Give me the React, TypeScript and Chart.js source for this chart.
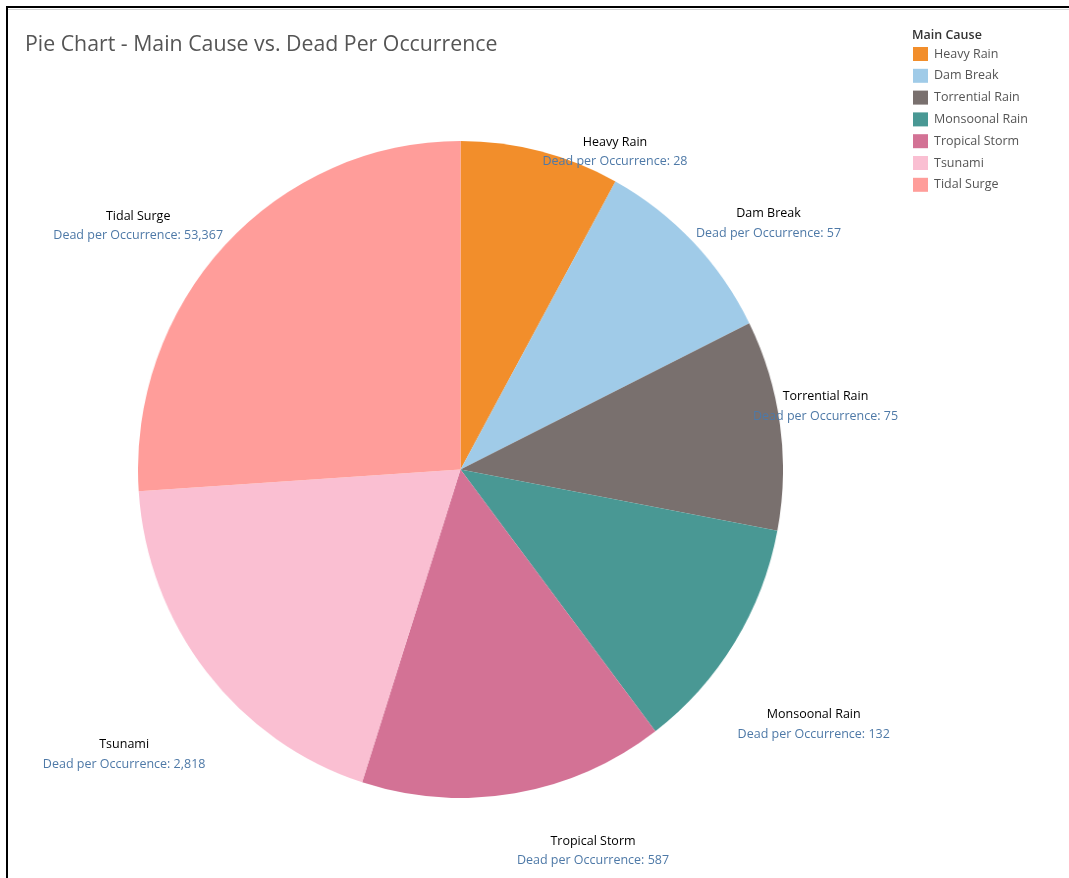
import React, { useEffect, useRef } from 'react';
import { Chart, registerables } from 'chart.js';

Chart.register(...registerables);

const W = 1069;
const H = 878;

const causes = ['Heavy Rain', 'Dam Break', 'Torrential Rain', 'Monsoonal Rain', 'Tropical Storm', 'Tsunami', 'Tidal Surge'];
const deadPerOccurrence = [28, 57, 75, 132, 587, 2818, 53367];
const colors = ['#f28e2b', '#a0cbe8', '#79706e', '#499894', '#d37295', '#fabfd2', '#ff9d9a'];
// label block offsets relative to the slice's outer mid point [dx, dy]
const labelOffsets: [number, number][] = [
  [2, -9],
  [3, -28],
  [-27, -28],
  [3, 72],
  [2, 48],
  [-1, 73],
  [-2, -29],
];

const titleText = 'Pie Chart - Main Cause vs. Dead Per Occurrence';
const legendTitle = 'Main Cause';
const FONT = '"Open Sans", "Noto Sans", sans-serif';

// pie placement on the page (the reference pie is slightly squeezed horizontally)
const PIE_LEFT = 138;
const PIE_TOP = 141;
const PIE_SIZE = 657;
const PIE_SX = 645 / 657;

export default function App() {
  const pieRef = useRef<HTMLCanvasElement>(null);
  const overRef = useRef<HTMLCanvasElement>(null);
  useEffect(() => {
    if (!pieRef.current || !overRef.current) return;
    const chart = new Chart(pieRef.current, {
      type: 'pie',
      data: {
        labels: causes,
        datasets: [
          {
            data: deadPerOccurrence.map((v) => Math.log10(v)),
            backgroundColor: colors,
            borderWidth: 0,
          },
        ],
      },
      options: {
        animation: false,
        responsive: false,
        devicePixelRatio: 1,
        layout: { padding: 0 },
        plugins: { legend: { display: false }, tooltip: { enabled: false }, title: { display: false } },
      },
    });

    const ctx = overRef.current.getContext('2d') as CanvasRenderingContext2D;
    ctx.clearRect(0, 0, W, H);
    ctx.fillStyle = '#000000';
    ctx.fillRect(6, 6, W - 6, 2);
    ctx.fillRect(6, 6, 2, H - 6);
    ctx.fillStyle = '#d4d4d4';
    ctx.fillRect(8, 9, W - 8, 1);
    // title
    ctx.fillStyle = '#555555';
    ctx.font = `21.3px ${FONT}`;
    ctx.textBaseline = 'middle';
    ctx.textAlign = 'left';
    ctx.fillText(titleText, 25, 45);
    // legend
    ctx.fillStyle = '#333333';
    ctx.font = `600 12.5px ${FONT}`;
    ctx.fillText(legendTitle, 912, 35);
    ctx.font = `12.5px ${FONT}`;
    causes.forEach((c, i) => {
      const y = 54 + i * 21.8;
      ctx.fillStyle = colors[i];
      ctx.fillRect(913, y - 7, 15, 14);
      ctx.fillStyle = '#555555';
      ctx.fillText(c, 934, y);
    });

    // slice labels, placed from the chart's own arc geometry
    const meta = chart.getDatasetMeta(0);
    ctx.textAlign = 'center';
    meta.data.forEach((arc: any, i: number) => {
      const p = arc.getProps(['x', 'y', 'startAngle', 'endAngle', 'outerRadius'], true);
      const mid = (p.startAngle + p.endAngle) / 2;
      const ex = PIE_LEFT + (p.x + Math.cos(mid) * p.outerRadius) * PIE_SX;
      const ey = PIE_TOP + p.y + Math.sin(mid) * p.outerRadius;
      const name = causes[i];
      const val = 'Dead per Occurrence: ' + deadPerOccurrence[i].toLocaleString('en-US');
      ctx.font = `12.5px ${FONT}`;
      const w = Math.max(ctx.measureText(name).width, ctx.measureText(val).width);
      const [dx, dy] = labelOffsets[i];
      const right = Math.cos(mid) >= 0;
      const cx = right ? ex + dx + w / 2 : ex + dx - w / 2;
      const y1 = ey + dy;
      ctx.fillStyle = '#000000';
      ctx.fillText(name, cx, y1);
      ctx.fillStyle = '#4e79a7';
      ctx.fillText(val, cx, y1 + 19.5);
    });

    return () => chart.destroy();
  }, []);
  return (
    <>
      <canvas
        ref={pieRef}
        width={PIE_SIZE}
        height={PIE_SIZE}
        style={{
          position: 'fixed',
          left: PIE_LEFT,
          top: PIE_TOP,
          width: PIE_SIZE,
          height: PIE_SIZE,
          display: 'block',
          transform: `scaleX(${PIE_SX})`,
          transformOrigin: '0 0',
        }}
      />
      <canvas
        ref={overRef}
        width={W}
        height={H}
        style={{ position: 'fixed', left: 0, top: 0, width: W, height: H, display: 'block', pointerEvents: 'none' }}
      />
    </>
  );
}
